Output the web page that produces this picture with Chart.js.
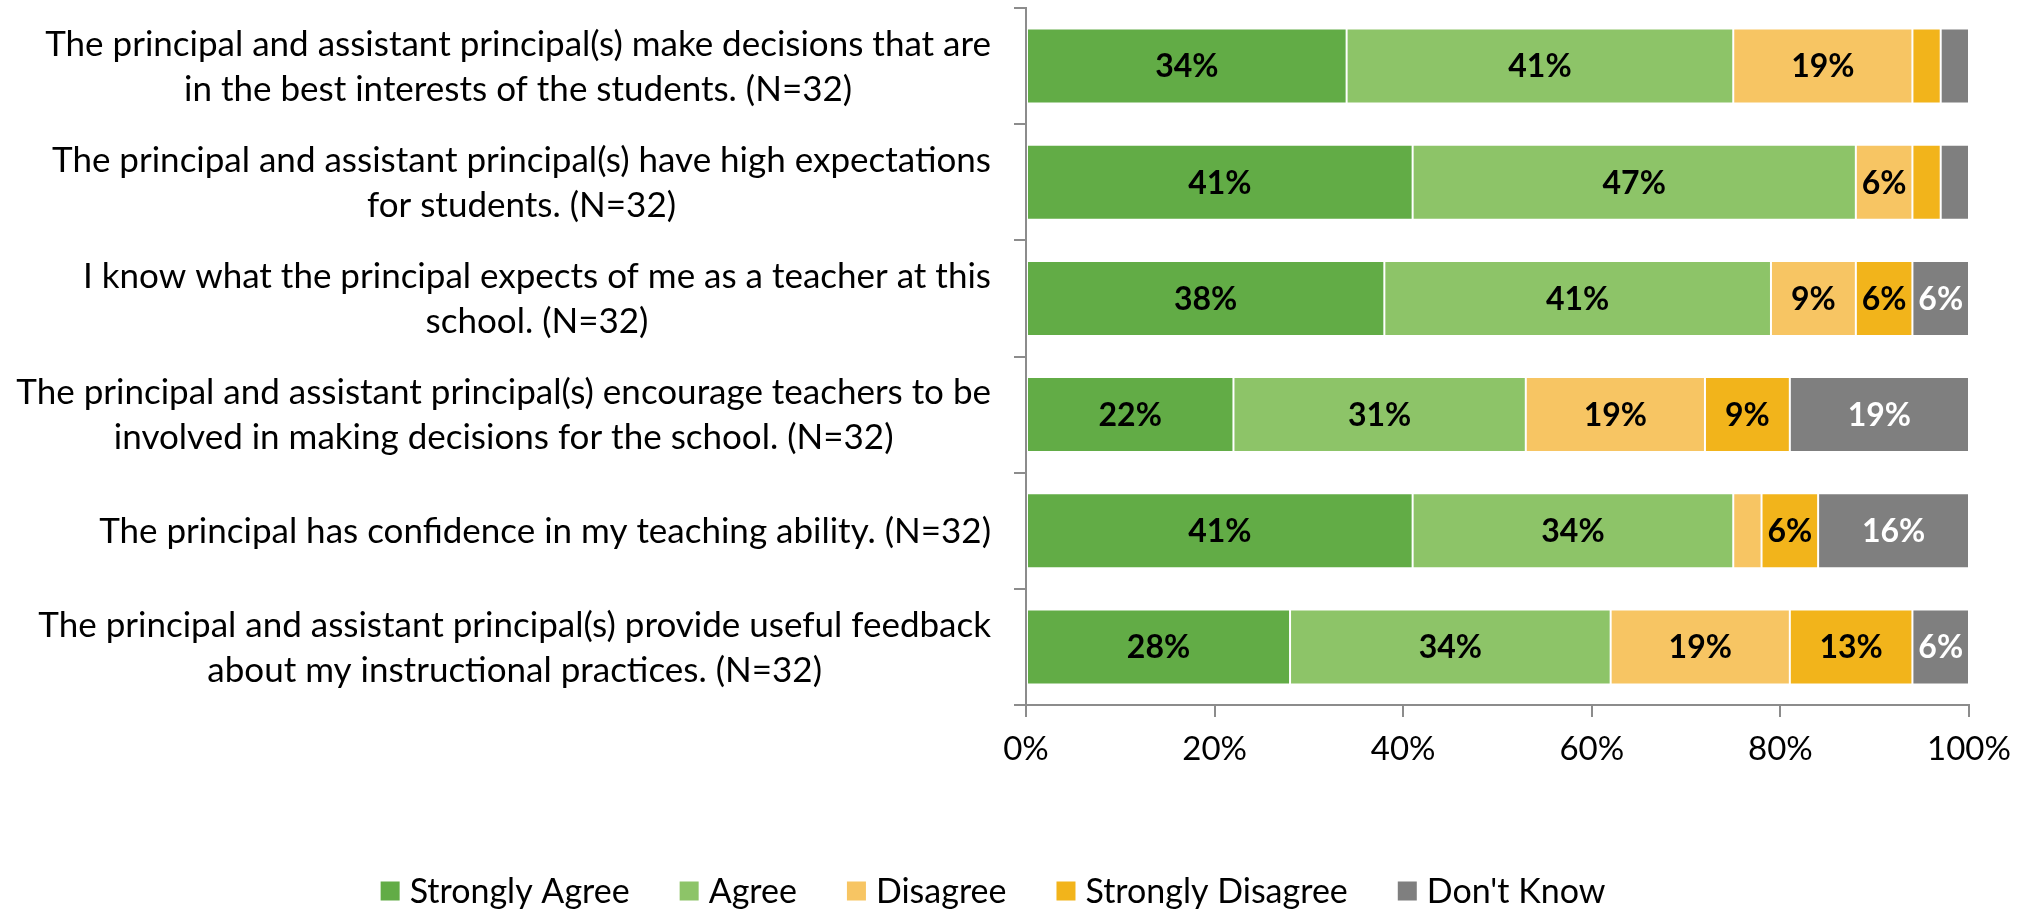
<!DOCTYPE html>
<html><head><meta charset="utf-8">
<script src="https://cdn.jsdelivr.net/npm/chart.js@4.4.1/dist/chart.umd.min.js"></script>
<style>html,body{margin:0;padding:0;background:#fff;overflow:hidden}</style>
</head><body>
<canvas id="c" width="2030" height="910" style="display:block;width:2030px;height:910px"></canvas>
<script>
const categories = [
  ["The principal and assistant principal(s) make decisions that are", "in the best interests of the students. (N=32)"],
  ["The principal and assistant principal(s) have high expectations", "for students. (N=32)"],
  ["I know what the principal expects of me as a teacher at this", "school. (N=32)"],
  ["The principal and assistant principal(s) encourage teachers to be", "involved in making decisions for the school. (N=32)"],
  ["The principal has confidence in my teaching ability. (N=32)"],
  ["The principal and assistant principal(s) provide useful feedback", "about my instructional practices. (N=32)"]
];
const seriesNames = ["Strongly Agree", "Agree", "Disagree", "Strongly Disagree", "Don't Know"];
const stronglyAgree    = [34, 41, 38, 22, 41, 28];
const agree            = [41, 47, 41, 31, 34, 34];
const disagree         = [19, 6, 9, 19, 3, 19];
const stronglyDisagree = [3, 3, 6, 9, 6, 13];
const dontKnow         = [3, 3, 6, 19, 16, 6];
const xTickValues = [0, 20, 40, 60, 80, 100];

const seriesValues = [stronglyAgree, agree, disagree, stronglyDisagree, dontKnow];
const seriesColors = ['#62ac46', '#8dc468', '#f7c563', '#f2b41b', '#7f7f7f'];
const labelColors  = ['#000000', '#000000', '#000000', '#000000', '#ffffff'];

const FONT = 'Lato';
const AXIS_COLOR = '#8c8c8c';

const yLabelPlugin = {
  id: 'yLabels',
  afterDraw(chart) {
    const ctx = chart.ctx, ys = chart.scales.y;
    const right = chart.chartArea.left - 35;
    ctx.save();
    ctx.font = '35px ' + FONT;
    ctx.fillStyle = '#000';
    ctx.textAlign = 'center';
    ctx.textBaseline = 'middle';
    categories.forEach((lines, i) => {
      const cy = ys.getPixelForValue(i);
      const w = Math.max(...lines.map(l => ctx.measureText(l).width));
      const cx = right - w / 2;
      const n = lines.length;
      lines.forEach((l, j) => ctx.fillText(l, cx, cy + (j - (n - 1) / 2) * 45 + 1));
    });
    ctx.restore();
  }
};

const dataLabelPlugin = {
  id: 'dataLabels',
  afterDatasetsDraw(chart) {
    const ctx = chart.ctx;
    ctx.save();
    ctx.font = 'bold 32px ' + FONT;
    ctx.textAlign = 'center';
    ctx.textBaseline = 'middle';
    chart.data.datasets.forEach((ds, di) => {
      const meta = chart.getDatasetMeta(di);
      meta.data.forEach((el, i) => {
        const v = ds.data[i];
        if (v < 5) return;
        ctx.fillStyle = labelColors[di];
        ctx.fillText(v + '%', (el.x + el.base) / 2, el.y + 1);
      });
    });
    ctx.restore();
  }
};

const legendPlugin = {
  id: 'customLegend',
  afterDraw(chart) {
    const ctx = chart.ctx;
    ctx.save();
    ctx.font = '34px ' + FONT;
    ctx.textBaseline = 'middle';
    ctx.textAlign = 'left';
    const box = 19, gapText = 10, gapItem = 50, cy = 891, center = 993;
    const items = chart.data.datasets.map(ds => ({label: ds.label, color: ds.backgroundColor, w: ctx.measureText(ds.label).width}));
    const total = items.reduce((s, it) => s + box + gapText + it.w, 0) + gapItem * (items.length - 1);
    let x = center - total / 2;
    items.forEach(it => {
      ctx.fillStyle = it.color;
      ctx.fillRect(x, cy - box / 2, box, box);
      ctx.fillStyle = '#000';
      ctx.fillText(it.label, x + box + gapText, cy + 1);
      x += box + gapText + it.w + gapItem;
    });
    ctx.restore();
  }
};

function build() {
  new Chart(document.getElementById('c'), {
    type: 'bar',
    data: {
      labels: categories,
      datasets: seriesNames.map((name, i) => ({
        label: name,
        data: seriesValues[i],
        backgroundColor: seriesColors[i],
        borderColor: '#ffffff',
        borderWidth: 1,
        borderSkipped: false,
        categoryPercentage: 1,
        barPercentage: 0.645
      }))
    },
    options: {
      indexAxis: 'y',
      responsive: false,
      devicePixelRatio: 1,
      animation: false,
      layout: {padding: {top: 8, right: 61, left: 0, bottom: 0}},
      plugins: {legend: {display: false}, tooltip: {enabled: false}},
      scales: {
        x: {
          stacked: true,
          min: 0, max: 100,
          afterBuildTicks: s => { s.ticks = xTickValues.map(v => ({value: v})); },
          afterFit: s => { s.height = 205; },
          grid: {drawOnChartArea: false, drawTicks: true, tickLength: 12, color: AXIS_COLOR, lineWidth: 2},
          border: {display: true, color: AXIS_COLOR, width: 2},
          ticks: {font: {family: FONT, size: 33}, color: '#000', padding: 13, maxRotation: 0, callback: v => v + '%'}
        },
        y: {
          stacked: true,
          afterFit: s => { s.width = 1026; },
          grid: {drawOnChartArea: false, drawTicks: true, tickLength: 12, color: AXIS_COLOR, lineWidth: 2, offset: true},
          border: {display: true, color: AXIS_COLOR, width: 2},
          ticks: {display: false}
        }
      }
    },
    plugins: [yLabelPlugin, dataLabelPlugin, legendPlugin]
  });
}
if (document.fonts && document.fonts.load) {
  Promise.all([document.fonts.load('35px Lato'), document.fonts.load('bold 32px Lato')]).then(build, build);
} else build();
</script>
</body></html>
